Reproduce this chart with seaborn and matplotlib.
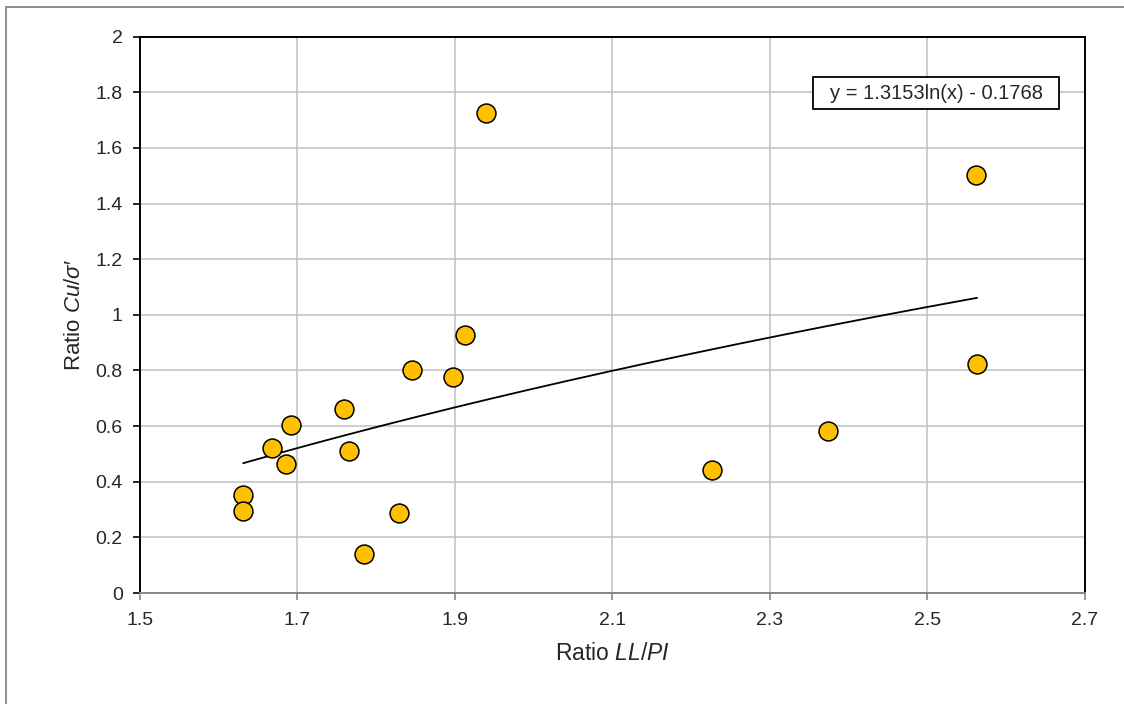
import numpy as np
import pandas as pd
import matplotlib
matplotlib.use("Agg")
import matplotlib.pyplot as plt
import seaborn as sns
from matplotlib.lines import Line2D
from matplotlib.patches import Rectangle
from matplotlib.ticker import FormatStrFormatter, FuncFormatter

# ---- data ----
ll_pi = [1.939, 2.561, 2.563, 2.374, 2.226, 1.913, 1.845, 1.898, 1.759,
         1.692, 1.668, 1.685, 1.765, 1.631, 1.631, 1.829, 1.784]
cu_sigma = [1.726, 1.504, 0.823, 0.581, 0.444, 0.927, 0.802, 0.778, 0.662,
            0.605, 0.520, 0.465, 0.510, 0.354, 0.295, 0.286, 0.139]
trend_a = 1.3153
trend_b = -0.1768
equation_text = "y = 1.3153ln(x) - 0.1768"
x_ticks = [1.5, 1.7, 1.9, 2.1, 2.3, 2.5, 2.7]
y_ticks = [0, 0.2, 0.4, 0.6, 0.8, 1.0, 1.2, 1.4, 1.6, 1.8, 2.0]

df = pd.DataFrame({"x": ll_pi, "y": cu_sigma})
xt = np.linspace(min(ll_pi), max(ll_pi), 200)
trend = pd.DataFrame({"x": xt, "y": trend_a * np.log(xt) + trend_b})

sns.set_theme(style="white")
plt.rcParams["font.family"] = ["Liberation Sans", "DejaVu Sans"]
plt.rcParams["mathtext.fontset"] = "custom"
plt.rcParams["mathtext.rm"] = "Liberation Sans"
plt.rcParams["mathtext.it"] = "Liberation Sans:italic"

W, H = 1124, 704
fig = plt.figure(figsize=(W / 100, H / 100), dpi=100)
fig.patch.set_facecolor("white")
ax = fig.add_axes([140 / W, 1 - 593 / H, (1085 - 140) / W, (593 - 36.7) / H])

# grid
for xv in x_ticks:
    ax.axvline(xv, color="#C0C0C0", lw=1.1, zorder=0)
for yv in y_ticks:
    ax.axhline(yv, color="#C0C0C0", lw=1.1, zorder=0)

sns.lineplot(data=trend, x="x", y="y", ax=ax, color="black", lw=1.3,
             zorder=2, legend=False)
sns.scatterplot(data=df, x="x", y="y", ax=ax, color="#FFC000", s=185,
                edgecolor="black", linewidth=1.1, zorder=3, legend=False)

ax.set_xlim(1.5, 2.7)
ax.set_ylim(0, 2)
ax.set_xticks(x_ticks)
ax.set_yticks(y_ticks)
ax.xaxis.set_major_formatter(FormatStrFormatter("%.1f"))
ax.yaxis.set_major_formatter(FuncFormatter(lambda v, p: "%g" % round(v, 1)))

for s in ["left", "top", "right"]:
    ax.spines[s].set_color("black")
    ax.spines[s].set_linewidth(1.4)
ax.spines["bottom"].set_color("#868686")
ax.spines["bottom"].set_linewidth(1.4)

ax.tick_params(axis="y", direction="out", length=5, width=1.2, color="black",
               labelsize=14, pad=7.5, left=True)
ax.tick_params(axis="x", direction="out", length=5, width=1.2, color="#868686",
               labelsize=14, pad=9, bottom=True)

ax.set_xlabel("Ratio $LL/PI$", fontsize=16.5, labelpad=9)
ax.set_ylabel("Ratio $Cu/σ′$", fontsize=16, labelpad=7.5)

# equation box (trendline label)
fig.add_artist(Rectangle((813 / W, 1 - 109 / H), (1059 - 813) / W, 32 / H,
                         transform=fig.transFigure, fc="white", ec="black",
                         lw=1.3, zorder=5))
fig.text(936 / W, 1 - 93.5 / H, equation_text, ha="center", va="center",
         fontsize=14.5, zorder=6)

# outer chart border (grey)
fig.add_artist(Line2D([6 / W, 6 / W], [0, 1 - 7 / H], color="#8C8C8C", lw=1.4,
                      transform=fig.transFigure))
fig.add_artist(Line2D([6 / W, 1], [1 - 7 / H, 1 - 7 / H], color="#8C8C8C", lw=1.4,
                      transform=fig.transFigure))

fig.savefig("out.png", dpi=100, facecolor="white")
